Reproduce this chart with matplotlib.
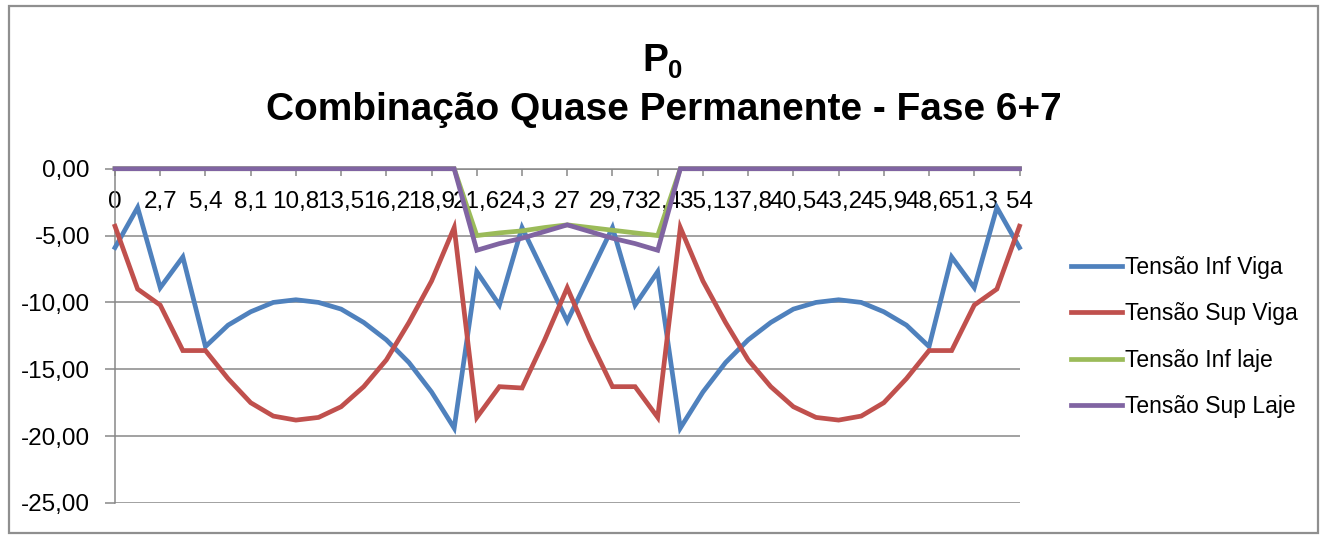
import matplotlib
matplotlib.use("Agg")
import matplotlib.pyplot as plt
from matplotlib.patches import Rectangle

# posição ao longo da viga (m)
posicao = [0, 1.35, 2.7, 4.05, 5.4, 6.75, 8.1, 9.45, 10.8, 12.15, 13.5,
           14.85, 16.2, 17.55, 18.9, 20.25, 21.6, 22.95, 24.3, 25.65, 27,
           28.35, 29.7, 31.05, 32.4, 33.75, 35.1, 36.45, 37.8, 39.15, 40.5,
           41.85, 43.2, 44.55, 45.9, 47.25, 48.6, 49.95, 51.3, 52.65, 54]

inf_viga = [-5.9, -2.9, -8.9, -6.6, -13.3, -11.7, -10.7, -10.0, -9.8, -10.0,
            -10.5, -11.5, -12.8, -14.5, -16.7, -19.4, -7.7, -10.2, -4.4, -7.9,
            -11.4, -7.9, -4.4, -10.2, -7.7, -19.4, -16.7, -14.5, -12.8, -11.5,
            -10.5, -10.0, -9.8, -10.0, -10.7, -11.7, -13.3, -6.6, -8.9, -2.9, -5.9]

sup_viga = [-4.3, -9.0, -10.2, -13.6, -13.6, -15.7, -17.5, -18.5, -18.8, -18.6,
            -17.8, -16.3, -14.3, -11.5, -8.4, -4.4, -18.6, -16.3, -16.4, -12.8,
            -8.9, -12.8, -16.3, -16.3, -18.6, -4.4, -8.4, -11.5, -14.3, -16.3,
            -17.8, -18.6, -18.8, -18.5, -17.5, -15.7, -13.6, -13.6, -10.2, -9.0, -4.3]

inf_laje = [0] * 16 + [-5.0, -4.8, -4.65, -4.4, -4.2, -4.4, -4.6, -4.8, -5.0] + [0] * 16
sup_laje = [0] * 16 + [-6.1, -5.6, -5.2, -4.7, -4.2, -4.7, -5.2, -5.6, -6.1] + [0] * 16

series = [
    (inf_viga, 'Tensão Inf Viga', '#4F81BD'),
    (sup_viga, 'Tensão Sup Viga', '#C0504D'),
    (inf_laje, 'Tensão Inf laje', '#9BBB59'),
    (sup_laje, 'Tensão Sup Laje', '#8064A2'),
]

plt.rcParams['font.family'] = ['Liberation Sans', 'DejaVu Sans']
grid_cor = '#878787'
y_marcas = [0, -5, -10, -15, -20, -25]

fig = plt.figure(figsize=(13.25, 5.4), dpi=100)
ax = fig.add_axes([115 / 1325, 1 - 503 / 540, (1019.5 - 115) / 1325, (503 - 168.7) / 540])

for valores, nome, cor in series:
    ax.plot(posicao, valores, color=cor, lw=3.4, label=nome, clip_on=False,
            solid_joinstyle='miter', zorder=3)

ax.set_xlim(0, 54)
ax.set_ylim(-25, 0)

ax.set_yticks(y_marcas)
ax.set_yticklabels([('%.2f' % v).replace('.', ',') for v in y_marcas])
ax.yaxis.grid(True, color=grid_cor, lw=1.1)
ax.set_axisbelow(True)

marcas = posicao[::2]
ax.set_xticks(marcas)
ax.set_xticklabels([('%g' % v).replace('.', ',') for v in marcas])

ax.spines['bottom'].set_position(('data', 0))
for lado in ['top', 'right']:
    ax.spines[lado].set_visible(False)
for lado in ['bottom', 'left']:
    ax.spines[lado].set_color(grid_cor)
    ax.spines[lado].set_linewidth(1.1)

ax.tick_params(axis='y', length=7, width=1.1, color=grid_cor, pad=11, labelsize=17.5)
ax.tick_params(axis='x', length=5, width=1.1, color=grid_cor, pad=11, labelsize=17.5)

fig.text(655 / 1325, 1 - 61 / 540, 'P', ha='center', va='center',
         fontsize=28, fontweight='bold')
fig.text(675 / 1325, 1 - 71 / 540, '0', ha='center', va='center',
         fontsize=18.5, fontweight='bold')
fig.text(664 / 1325, 1 - 110 / 540, 'Combinação Quase Permanente - Fase 6+7',
         ha='center', va='center', fontsize=28, fontweight='bold')

fig.legend(loc='center left', bbox_to_anchor=(1060 / 1325, 1 - 337 / 540),
           frameon=False, fontsize=16.5, handlelength=2.2, handletextpad=0.15,
           labelspacing=1.02, borderpad=0)

fig.patches.append(Rectangle((9 / 1325, 1 - 533 / 540), (1318 - 9) / 1325, (533 - 6) / 540,
                             transform=fig.transFigure, fill=False,
                             edgecolor='#8f8f8f', lw=1.6))

fig.savefig('out.png', dpi=100)
